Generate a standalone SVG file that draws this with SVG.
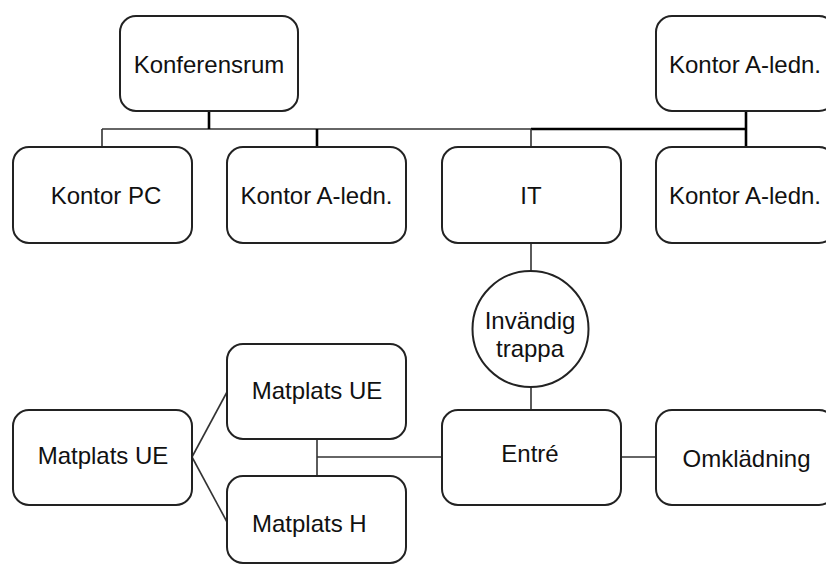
<svg xmlns="http://www.w3.org/2000/svg" width="826" height="565" viewBox="0 0 826 565">
<style>
.box{fill:#fff;stroke:#222;stroke-width:2}
.t{font-family:"Liberation Sans",Arial,sans-serif;font-size:24px;fill:#111;text-anchor:middle}
.c{fill:none;stroke:#333;stroke-width:1.6}
.ck{fill:none;stroke:#000;stroke-width:2.6}
</style>
<rect width="826" height="565" fill="#fff"/>
<g id="connectors">
<line class="c" x1="102" y1="129" x2="531" y2="129"/>
<line class="ck" x1="531" y1="129" x2="746" y2="129"/>
<line class="ck" x1="209" y1="111" x2="209" y2="129"/>
<line class="c" x1="102" y1="129" x2="102" y2="147"/>
<line class="ck" x1="317" y1="129" x2="317" y2="147"/>
<line class="c" x1="531" y1="129" x2="531" y2="147"/>
<line class="ck" x1="746" y1="111" x2="746" y2="147"/>
<line class="c" x1="531" y1="243" x2="531" y2="271"/>
<line class="c" x1="531" y1="387" x2="531" y2="410"/>
<line class="c" x1="621" y1="457" x2="656" y2="457"/>
<line class="c" x1="317" y1="457" x2="442" y2="457"/>
<line class="c" x1="317" y1="439" x2="317" y2="476"/>
<line class="c" x1="192" y1="457" x2="227" y2="392"/>
<line class="c" x1="192" y1="457" x2="227" y2="522"/>
</g>
<g id="konferensrum"><rect class="box" x="120" y="16" width="178" height="95" rx="16"/><text class="t" x="209" y="73">Konferensrum</text></g>
<g id="kontor-a-ledn-top"><rect class="box" x="656" y="16" width="179" height="95" rx="16"/><text class="t" x="745" y="73">Kontor A-ledn.</text></g>
<g id="kontor-pc"><rect class="box" x="13" y="147" width="179" height="96" rx="16"/><text class="t" x="106" y="204">Kontor PC</text></g>
<g id="kontor-a-ledn-mid"><rect class="box" x="227" y="147" width="179" height="96" rx="16"/><text class="t" x="316.5" y="204">Kontor A-ledn.</text></g>
<g id="it"><rect class="box" x="442" y="147" width="179" height="96" rx="16"/><text class="t" x="531" y="204">IT</text></g>
<g id="kontor-a-ledn-right"><rect class="box" x="656" y="147" width="179" height="96" rx="16"/><text class="t" x="745" y="204">Kontor A-ledn.</text></g>
<g id="invandig-trappa"><circle class="box" cx="530.5" cy="329" r="58"/><text class="t" x="530" y="329">Invändig</text><text class="t" x="530" y="357">trappa</text></g>
<g id="entre"><rect class="box" x="442" y="410" width="179" height="95" rx="16"/><text class="t" x="530" y="462">Entré</text></g>
<g id="omkladning"><rect class="box" x="656" y="410" width="179" height="95" rx="16"/><text class="t" x="746.5" y="467">Omklädning</text></g>
<g id="matplats-ue-left"><rect class="box" x="13" y="410" width="179" height="95" rx="16"/><text class="t" x="103" y="464">Matplats UE</text></g>
<g id="matplats-ue-right"><rect class="box" x="227" y="344" width="179" height="95" rx="16"/><text class="t" x="317" y="399">Matplats UE</text></g>
<g id="matplats-h"><rect class="box" x="227" y="476" width="179" height="87" rx="16"/><text class="t" x="252" y="532" style="text-anchor:start">Matplats H</text></g>
</svg>
